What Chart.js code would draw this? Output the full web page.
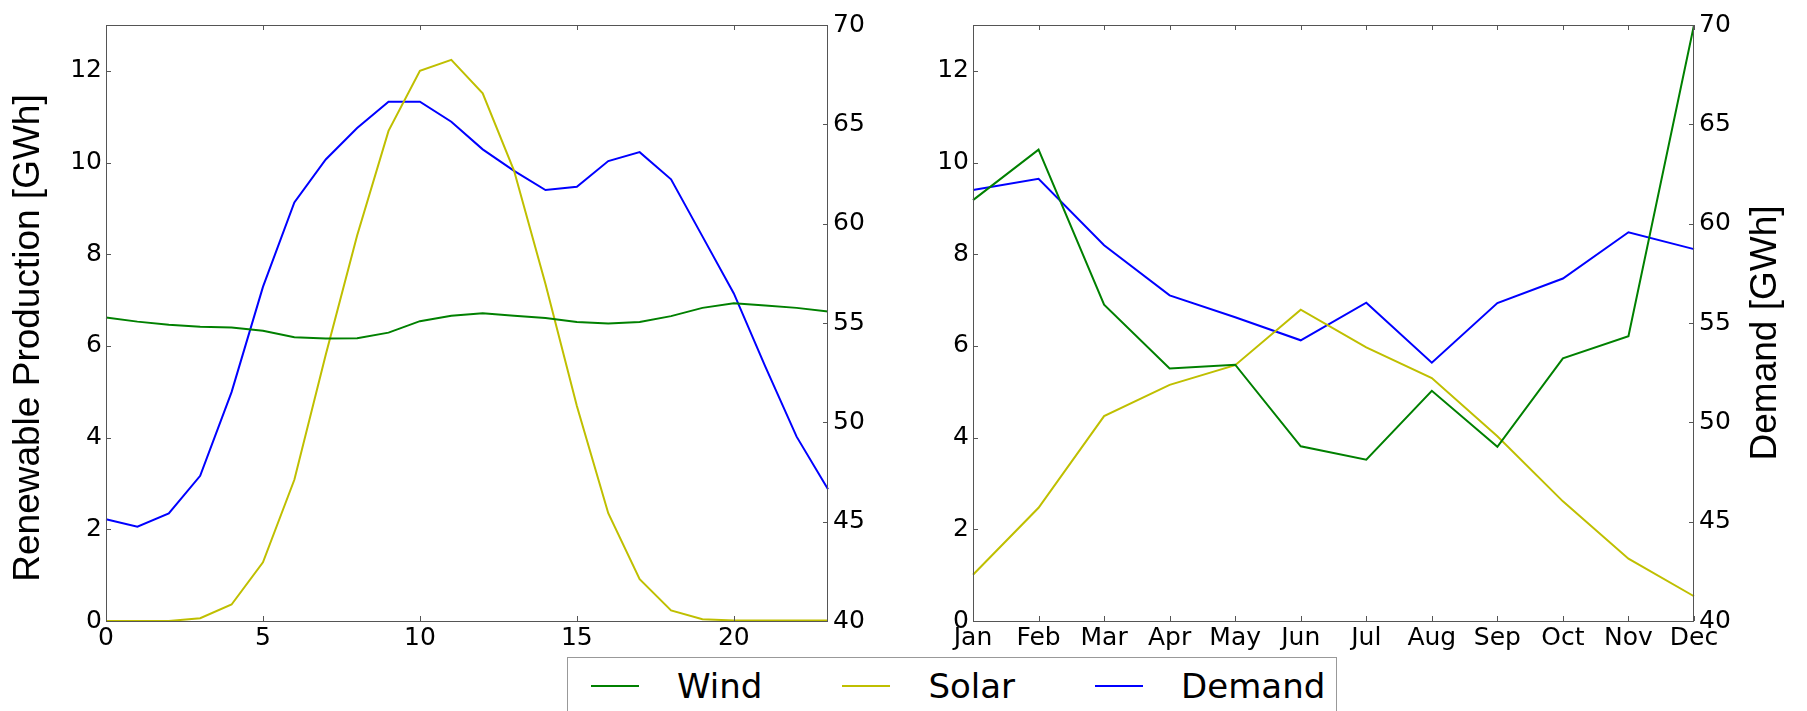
<!DOCTYPE html>
<html>
<head>
<meta charset="utf-8">
<script src="https://cdn.jsdelivr.net/npm/chart.js@4.4.1/dist/chart.umd.min.js"></script>
<style>
html, body { margin: 0; padding: 0; background: #fff; }
#fig { position: relative; width: 1807px; height: 711px; overflow: hidden; }
canvas { position: absolute; top: 0; }
#left { left: 0; }
#right { left: 900px; }
#legend {
   position: absolute; left: 567px; top: 657px; width: 770px; height: 70px;
   border: 1px solid #999; background: #fff; box-sizing: border-box;
   display: flex; align-items: flex-start; padding-left: 23px;
   font-family: "DejaVu Sans"; font-size: 34px; color: #000;
}
.item { display: flex; align-items: center; height: 56px; margin-right: 80px; }
.swatch { width: 48px; height: 0; border-top: 2px solid; margin-right: 38px; }
</style>
</head>
<body>
<div id="fig">
  <canvas id="left" width="900" height="711"></canvas>
  <canvas id="right" width="907" height="711"></canvas>
  <div id="legend"></div>
</div>
<script>
// hourly profile (left panel)
const hours = [0, 1, 2, 3, 4, 5, 6, 7, 8, 9, 10, 11, 12, 13, 14, 15, 16, 17, 18, 19, 20, 21, 22, 23];
const hourTicks = [0, 5, 10, 15, 20];
const hourWind = [6.62, 6.53, 6.46, 6.42, 6.40, 6.33, 6.19, 6.16, 6.17, 6.29, 6.54, 6.66,
                  6.71, 6.66, 6.61, 6.52, 6.49, 6.52, 6.65, 6.83, 6.93, 6.88, 6.83, 6.75];
const hourSolar = [0, 0, 0, 0.06, 0.36, 1.28, 3.08, 5.81, 8.41, 10.69, 12.0, 12.24,
                   11.51, 9.82, 7.35, 4.69, 2.35, 0.91, 0.23, 0.04, 0.01, 0.01, 0.01, 0.01];
const hourDemand = [45.12, 44.75, 45.42, 47.31, 51.52, 56.82, 61.07, 63.23, 64.81, 66.14, 66.14, 65.13,
                    63.74, 62.66, 61.69, 61.86, 63.15, 63.60, 62.23, 59.36, 56.49, 52.82, 49.28, 46.63];

// monthly profile (right panel)
const months = ["Jan", "Feb", "Mar", "Apr", "May", "Jun", "Jul", "Aug", "Sep", "Oct", "Nov", "Dec"];
const monthWind = [9.18, 10.28, 6.90, 5.51, 5.59, 3.81, 3.52, 5.02, 3.80, 5.73, 6.21, 13.0];
const monthSolar = [1.01, 2.47, 4.47, 5.15, 5.58, 6.79, 5.97, 5.30, 4.03, 2.61, 1.36, 0.54];
const monthDemand = [61.70, 62.26, 58.91, 56.39, 55.29, 54.13, 56.02, 53.0, 56.0, 57.24, 59.57, 58.72];

const seriesNames = ["Wind", "Solar", "Demand"];
const seriesColors = ["#008000", "#bfbf00", "#0000ff"];

const tickFont = { family: "DejaVu Sans", size: 25 };
const titleFont = "37px 'Liberation Sans'";

// matplotlib-style frame with inward ticks, plus rotated axis titles
const framePlugin = {
   id: "frame",
   afterDraw(chart, args, opts) {
      const ctx = chart.ctx;
      const a = chart.chartArea;
      const len = 5;
      ctx.save();
      ctx.strokeStyle = "#555";
      ctx.lineWidth = 1;
      ctx.strokeRect(a.left + 0.5, a.top + 0.5, a.right - a.left - 1, a.bottom - a.top);
      ctx.beginPath();
      chart.scales.x.ticks.forEach((t, i) => {
         if (t.label === "") return;
         const px = Math.round(chart.scales.x.getPixelForTick(i)) + 0.5;
         ctx.moveTo(px, a.bottom); ctx.lineTo(px, a.bottom - len);
         ctx.moveTo(px, a.top); ctx.lineTo(px, a.top + len);
      });
      chart.scales.y.ticks.forEach(t => {
         const py = Math.round(chart.scales.y.getPixelForValue(t.value)) + 0.5;
         ctx.moveTo(a.left, py); ctx.lineTo(a.left + len, py);
      });
      chart.scales.y2.ticks.forEach(t => {
         const py = Math.round(chart.scales.y2.getPixelForValue(t.value)) + 0.5;
         ctx.moveTo(a.right, py); ctx.lineTo(a.right - len, py);
      });
      ctx.stroke();
      if (opts.title) {
         ctx.translate(opts.titleX, opts.titleY);
         ctx.rotate(-Math.PI / 2);
         ctx.font = titleFont;
         ctx.fillStyle = "#000";
         ctx.textAlign = "center";
         ctx.textBaseline = "middle";
         ctx.fillText(opts.title, 0, 0);
      }
      ctx.restore();
   }
};

function makeDatasets(wind, solar, demand) {
   return [wind, solar, demand].map((vals, i) => ({
      label: seriesNames[i],
      data: vals,
      borderColor: seriesColors[i],
      backgroundColor: seriesColors[i],
      borderWidth: 2,
      pointRadius: 0,
      tension: 0,
      yAxisID: i === 2 ? "y2" : "y"
   }));
}

function makeChart(id, labels, datasets, xCallback, leftW, rightW, frameOpts) {
   return new Chart(document.getElementById(id), {
      type: "line",
      data: { labels: labels, datasets: datasets },
      plugins: [framePlugin],
      options: {
         responsive: false,
         animation: false,
         layout: { padding: { top: 25, left: 0, right: 0, bottom: 0 } },
         plugins: { legend: { display: false }, tooltip: { enabled: false }, frame: frameOpts },
         scales: {
            x: {
               type: "category",
               offset: false,
               grid: { display: false, drawTicks: false },
               border: { display: false },
               ticks: { autoSkip: false, maxRotation: 0, padding: 2, color: "#000", font: tickFont, callback: xCallback },
               afterFit(s) { s.height = 90; }
            },
            y: {
               min: 0, max: 13,
               grid: { display: false, drawTicks: false },
               border: { display: false },
               ticks: { stepSize: 2, includeBounds: false, padding: 4, color: "#000", font: tickFont },
               afterFit(s) { s.width = leftW; }
            },
            y2: {
               position: "right",
               min: 40, max: 70,
               grid: { display: false, drawTicks: false },
               border: { display: false },
               ticks: { stepSize: 5, padding: 5, color: "#000", font: tickFont },
               afterFit(s) { s.width = rightW; }
            }
         }
      }
   });
}

const leftChart = makeChart("left", hours, makeDatasets(hourWind, hourSolar, hourDemand),
   function (v, i) { return hourTicks.includes(hours[i]) ? String(hours[i]) : ""; },
   106, 72, { title: "Renewable Production [GWh]", titleX: 29, titleY: 338 });

const rightChart = makeChart("right", months, makeDatasets(monthWind, monthSolar, monthDemand),
   function (v, i) { return months[i]; },
   73, 113, { title: "Demand [GWh]", titleX: 866, titleY: 333 });

// shared legend below both panels, built from the chart's datasets
const legendBox = document.getElementById("legend");
leftChart.data.datasets.forEach(ds => {
   const item = document.createElement("div");
   item.className = "item";
   const sw = document.createElement("span");
   sw.className = "swatch";
   sw.style.borderTopColor = ds.borderColor;
   const txt = document.createElement("span");
   txt.textContent = ds.label;
   item.appendChild(sw);
   item.appendChild(txt);
   legendBox.appendChild(item);
});
</script>
</body>
</html>
